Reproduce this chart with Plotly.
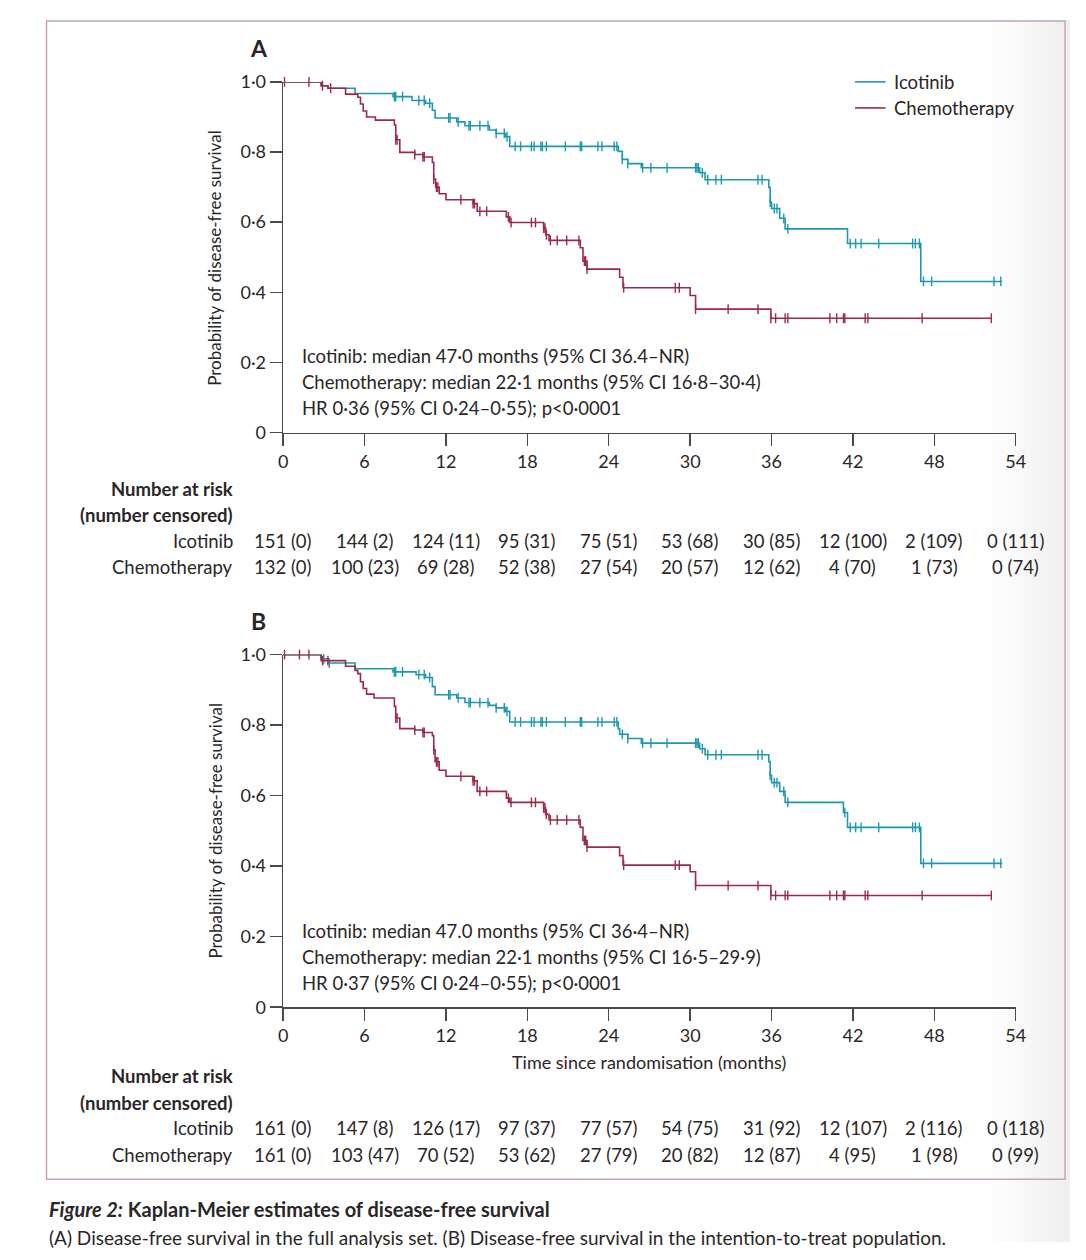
import plotly.graph_objects as go
import bisect

# ---------------- DATA ----------------
RISK_TIMES = [0, 6, 12, 18, 24, 30, 36, 42, 48, 54]
Y_TICKS = [0, 0.2, 0.4, 0.6, 0.8, 1.0]
Y_TICK_LABELS = ["0", "0·2", "0·4", "0·6", "0·8", "1·0"]

# Panel A: full analysis set
ICO_A_T = [0, 2.8, 3.3, 5.3, 8.1, 9.5, 10.5, 11.0, 11.2, 12.8, 13.4, 15.2, 15.7, 16.4, 16.7,
           24.7, 25.0, 25.4, 26.4, 30.7, 31.1, 35.8, 35.9, 36.0, 36.6, 37.0, 41.6, 47.0, 53.0]
ICO_A_S = [1.0, 0.989, 0.982, 0.967, 0.958, 0.947, 0.939, 0.919, 0.897, 0.886, 0.875, 0.863, 0.853, 0.844, 0.816,
           0.802, 0.779, 0.767, 0.755, 0.741, 0.721, 0.699, 0.657, 0.639, 0.611, 0.581, 0.539, 0.431, 0.431]
ICO_A_CENS = [8.2, 8.3, 8.8, 10.0, 10.4, 10.8, 12.2, 12.3, 12.9, 13.7, 13.8, 14.5, 15.1, 15.7, 16.3, 16.5,
              17.1, 17.5, 18.3, 18.5, 19.0, 19.1, 19.4, 20.8, 21.9, 22.0, 23.2, 23.5, 24.4, 24.6, 25.0, 25.4,
              26.5, 27.1, 28.3, 30.4, 30.5, 30.6, 30.9, 31.3, 31.9, 32.3, 35.0, 35.3, 35.9, 36.2, 36.4, 36.9,
              37.2, 41.8, 42.2, 42.6, 43.9, 46.4, 46.6, 46.9, 47.2, 47.8, 52.4, 52.9]

CHE_A_T = [0, 2.8, 3.3, 4.6, 5.5, 5.7, 5.9, 6.15, 6.8, 8.2, 8.3, 8.6, 9.7, 10.3, 11.0, 11.1, 11.24, 11.5, 12.0,
           14.0, 14.3, 16.45, 16.7, 19.2, 19.35, 19.6, 21.9, 22.1, 22.4, 24.8, 25.05, 30.0, 30.4, 35.95, 52.2]
CHE_A_S = [1.0, 0.989, 0.982, 0.965, 0.956, 0.937, 0.917, 0.900, 0.891, 0.877, 0.835, 0.799, 0.793, 0.786, 0.770,
           0.723, 0.700, 0.681, 0.664, 0.653, 0.631, 0.615, 0.599, 0.583, 0.564, 0.548, 0.527, 0.489, 0.466,
           0.443, 0.413, 0.391, 0.352, 0.326, 0.326]
CHE_A_CENS = [0.1, 1.9, 2.9, 3.5, 8.3, 8.4, 9.7, 10.3, 10.4, 11.1, 11.3, 11.4, 13.1, 14.0, 14.1, 14.5, 15.0,
              16.6, 16.8, 18.3, 18.6, 19.2, 19.3, 19.4, 19.7, 20.2, 20.9, 21.8, 22.2, 22.3, 22.4, 25.1, 28.9,
              29.2, 30.4, 32.8, 35.0, 35.95, 36.3, 37.0, 37.2, 40.3, 40.8, 41.3, 41.4, 42.9, 43.1, 47.1, 52.2]

# Panel B: intention-to-treat population
ICO_B_T = [0, 2.8, 3.3, 5.3, 8.1, 9.8, 10.5, 11.0, 11.2, 12.8, 13.4, 15.2, 15.7, 16.4, 16.7,
           24.7, 24.8, 25.4, 26.4, 30.7, 31.1, 35.8, 35.9, 36.0, 36.6, 37.0, 41.3, 41.6, 47.0, 53.0]
ICO_B_S = [1.0, 0.988, 0.976, 0.960, 0.951, 0.943, 0.935, 0.909, 0.886, 0.877, 0.864, 0.856, 0.849, 0.839, 0.809,
           0.790, 0.774, 0.762, 0.749, 0.733, 0.716, 0.696, 0.658, 0.637, 0.612, 0.581, 0.552, 0.510, 0.408, 0.408]
ICO_B_CENS = [3.0, 3.4, 8.2, 8.3, 8.8, 10.0, 10.4, 10.8, 12.2, 12.3, 12.9, 13.7, 13.8, 14.5, 15.1, 15.7, 16.3,
              16.5, 17.1, 17.5, 18.3, 18.5, 19.0, 19.1, 19.4, 20.8, 21.9, 22.0, 23.2, 23.5, 24.4, 24.6, 25.0,
              25.4, 26.5, 27.1, 28.3, 30.4, 30.5, 30.6, 30.9, 31.3, 31.9, 32.3, 35.0, 35.3, 35.9, 36.2, 36.4,
              36.9, 37.2, 41.4, 41.8, 42.2, 42.6, 43.9, 46.4, 46.6, 46.9, 47.2, 47.8, 52.4, 52.9]

CHE_B_T = [0, 2.8, 4.6, 5.3, 5.5, 5.7, 5.9, 6.15, 6.7, 8.2, 8.3, 8.6, 9.7, 10.3, 11.0, 11.1, 11.2, 11.5, 12.0,
           14.0, 14.3, 16.45, 16.7, 19.2, 19.35, 19.6, 21.9, 22.1, 22.4, 24.8, 25.05, 30.0, 30.4, 35.95, 52.2]
CHE_B_S = [1.0, 0.983, 0.967, 0.955, 0.946, 0.923, 0.904, 0.888, 0.877, 0.853, 0.820, 0.790, 0.786, 0.779, 0.770,
           0.730, 0.696, 0.672, 0.655, 0.642, 0.612, 0.593, 0.581, 0.565, 0.547, 0.531, 0.510, 0.473, 0.454,
           0.430, 0.403, 0.384, 0.345, 0.317, 0.317]
CHE_B_CENS = [0.1, 1.2, 1.9, 2.9, 3.3, 8.3, 8.4, 9.7, 10.3, 10.4, 11.1, 11.3, 11.4, 13.1, 14.0, 14.1, 14.5, 15.0,
              16.6, 16.8, 18.3, 18.6, 19.2, 19.3, 19.4, 19.7, 20.2, 20.9, 21.8, 22.2, 22.3, 22.4, 25.1, 28.9,
              29.2, 30.4, 32.8, 35.0, 35.95, 36.3, 37.0, 37.2, 40.3, 40.8, 41.3, 41.4, 42.9, 43.1, 47.1, 52.2]

# Number at risk (number censored)
ICO_A_RISK = [151, 144, 124, 95, 75, 53, 30, 12, 2, 0]
ICO_A_CNS = [0, 2, 11, 31, 51, 68, 85, 100, 109, 111]
CHE_A_RISK = [132, 100, 69, 52, 27, 20, 12, 4, 1, 0]
CHE_A_CNS = [0, 23, 28, 38, 54, 57, 62, 70, 73, 74]
ICO_B_RISK = [161, 147, 126, 97, 77, 54, 31, 12, 2, 0]
ICO_B_CNS = [0, 8, 17, 37, 57, 75, 92, 107, 116, 118]
CHE_B_RISK = [161, 103, 70, 53, 27, 20, 12, 4, 1, 0]
CHE_B_CNS = [0, 47, 52, 62, 79, 82, 87, 95, 98, 99]

STATS_A = ["Icotinib: median 47·0 months (95% CI 36.4–NR)",
           "Chemotherapy: median 22·1 months (95% CI 16·8–30·4)",
           "HR 0·36 (95% CI 0·24–0·55); p<0·0001"]
STATS_B = ["Icotinib: median 47.0 months (95% CI 36·4–NR)",
           "Chemotherapy: median 22·1 months (95% CI 16·5–29·9)",
           "HR 0·37 (95% CI 0·24–0·55); p<0·0001"]

# ---------------- STYLE ----------------
PAGE_MARGIN = 8          # default body margin of the html page
W, H = 1086 - 2 * PAGE_MARGIN, 1260 - 2 * PAGE_MARGIN
TEAL = "#1c98b0"
RED = "#9c2a46"
TXT = "#2a2627"
AXC = "#4a4a4a"
FONT = "Lato"


def px(x):
    return (x - PAGE_MARGIN) / W


def py(y):
    return 1 - (y - PAGE_MARGIN) / H


def surv_at(T, S, times):
    out = []
    for t in times:
        i = bisect.bisect_right(T, t) - 1
        out.append(S[max(i, 0)])
    return out


fig = go.Figure()


def add_panel(T1, S1, C1, T2, S2, C2, xa, ya):
    for T, S, C, col in ((T1, S1, C1, TEAL), (T2, S2, C2, RED)):
        fig.add_trace(go.Scatter(x=T, y=S, mode="lines", line=dict(color=col, width=1.6, shape="hv"),
                                 xaxis=xa, yaxis=ya, cliponaxis=False, showlegend=False, hoverinfo="skip"))
        fig.add_trace(go.Scatter(x=C, y=surv_at(T, S, C), mode="markers",
                                 marker=dict(symbol="line-ns", size=7, line=dict(color=col, width=1.4)),
                                 xaxis=xa, yaxis=ya, cliponaxis=False, showlegend=False, hoverinfo="skip"))


add_panel(ICO_A_T, ICO_A_S, ICO_A_CENS, CHE_A_T, CHE_A_S, CHE_A_CENS, "x", "y")
add_panel(ICO_B_T, ICO_B_S, ICO_B_CENS, CHE_B_T, CHE_B_S, CHE_B_CENS, "x2", "y2")

xdom = [px(282), px(1025)]
axis_common = dict(showline=True, linecolor=AXC, linewidth=1.5, ticks="outside", ticklen=12,
                   tickwidth=1.5, tickcolor=AXC, showgrid=False, zeroline=False,
                   tickfont=dict(family=FONT, size=18, color=TXT), fixedrange=True)
xcommon = dict(axis_common, range=[0, 54], tickvals=RISK_TIMES, ticktext=[str(t) for t in RISK_TIMES])
ycommon = dict(axis_common, range=[0, 1], tickvals=Y_TICKS, ticktext=Y_TICK_LABELS)

fig.update_layout(
    xaxis=dict(xcommon, domain=xdom, anchor="y"),
    yaxis=dict(ycommon, domain=[py(428), py(71)], anchor="x"),
    xaxis2=dict(xcommon, domain=xdom, anchor="y2"),
    yaxis2=dict(ycommon, domain=[py(1013), py(654)], anchor="x2"),
)

ann = []
shapes = []


def txt(x, y, s, size=18, xanchor="left", bold=False, xref="paper", angle=0, yanchor="middle"):
    ann.append(dict(x=x, y=y, xref=xref, yref="paper", text=("<b>%s</b>" % s) if bold else s,
                    showarrow=False, xanchor=xanchor, yanchor=yanchor, textangle=angle,
                    font=dict(family=FONT, size=size, color=TXT)))


# subtle page shading at the right edge (as in the photographed page)
for k in range(10):
    shapes.append(dict(type="rect", xref="paper", yref="paper", x0=px(1000 + 8 * k), x1=px(1008 + 8 * k),
                       y0=0, y1=1, line=dict(width=0), fillcolor="rgba(120,120,120,%.3f)" % (0.012 * (k + 1)),
                       layer="below"))

# panel letters
txt(px(257), py(37), "A", size=23, xanchor="center", bold=True)
txt(px(257), py(620), "B", size=23, xanchor="center", bold=True)

# y axis titles
txt(px(213), py(250), "Probability of disease-free survival", size=17, xanchor="center", angle=-90)
txt(px(213), py(833), "Probability of disease-free survival", size=17, xanchor="center", angle=-90)

# statistics text
for i, s in enumerate(STATS_A):
    txt(px(299), py(350 + 26.5 * i), s, size=18.5)
for i, s in enumerate(STATS_B):
    txt(px(299), py(935 + 26.5 * i), s, size=18.5)

# legend
for i, (name, col) in enumerate((("Icotinib", TEAL), ("Chemotherapy", RED))):
    yy = py(71 + 26.5 * i)
    shapes.append(dict(type="line", xref="paper", yref="paper", x0=px(862), x1=px(893), y0=yy, y1=yy,
                       line=dict(color=col, width=1.6)))
    txt(px(900), yy, name, size=18.5)

# x axis title for panel B
txt(px(653), py(1069), "Time since randomisation (months)", size=18, xanchor="center")


def risk_table(top, ico_r, ico_c, che_r, che_c, xref):
    txt(px(233), py(top), "Number at risk", size=18.5, xanchor="right", bold=True)
    txt(px(233), py(top + 27), "(number censored)", size=18.5, xanchor="right", bold=True)
    txt(px(233), py(top + 53), "Icotinib", size=18.5, xanchor="right")
    txt(px(233), py(top + 80), "Chemotherapy", size=18.5, xanchor="right")
    for t, r, c in zip(RISK_TIMES, ico_r, ico_c):
        txt(t, py(top + 53), "%d (%d)" % (r, c), size=18.5, xanchor="center", xref=xref)
    for t, r, c in zip(RISK_TIMES, che_r, che_c):
        txt(t, py(top + 80), "%d (%d)" % (r, c), size=18.5, xanchor="center", xref=xref)


risk_table(485, ICO_A_RISK, ICO_A_CNS, CHE_A_RISK, CHE_A_CNS, "x")
risk_table(1083, ICO_B_RISK, ICO_B_CNS, CHE_B_RISK, CHE_B_CNS, "x2")

# caption
txt(px(42), py(1218), "<b><i>Figure 2:</i> Kaplan-Meier estimates of disease-free survival</b>", size=20)
txt(px(42), py(1247), "(A) Disease-free survival in the full analysis set. (B) Disease-free survival in the "
                      "intention-to-treat population.", size=19)

# frame
shapes.append(dict(type="rect", xref="paper", yref="paper", x0=px(42), x1=px(1075), y0=py(1188), y1=py(9),
                   line=dict(color="#c9a3b3", width=1.5), fillcolor="rgba(0,0,0,0)", layer="below"))

fig.update_layout(
    width=W, height=H, margin=dict(l=0, r=0, t=0, b=0),
    paper_bgcolor="white", plot_bgcolor="rgba(0,0,0,0)",
    annotations=ann, shapes=shapes, showlegend=False,
    font=dict(family=FONT, color=TXT),
)

fig.write_html("out.html", config={"displayModeBar": False, "staticPlot": True})
